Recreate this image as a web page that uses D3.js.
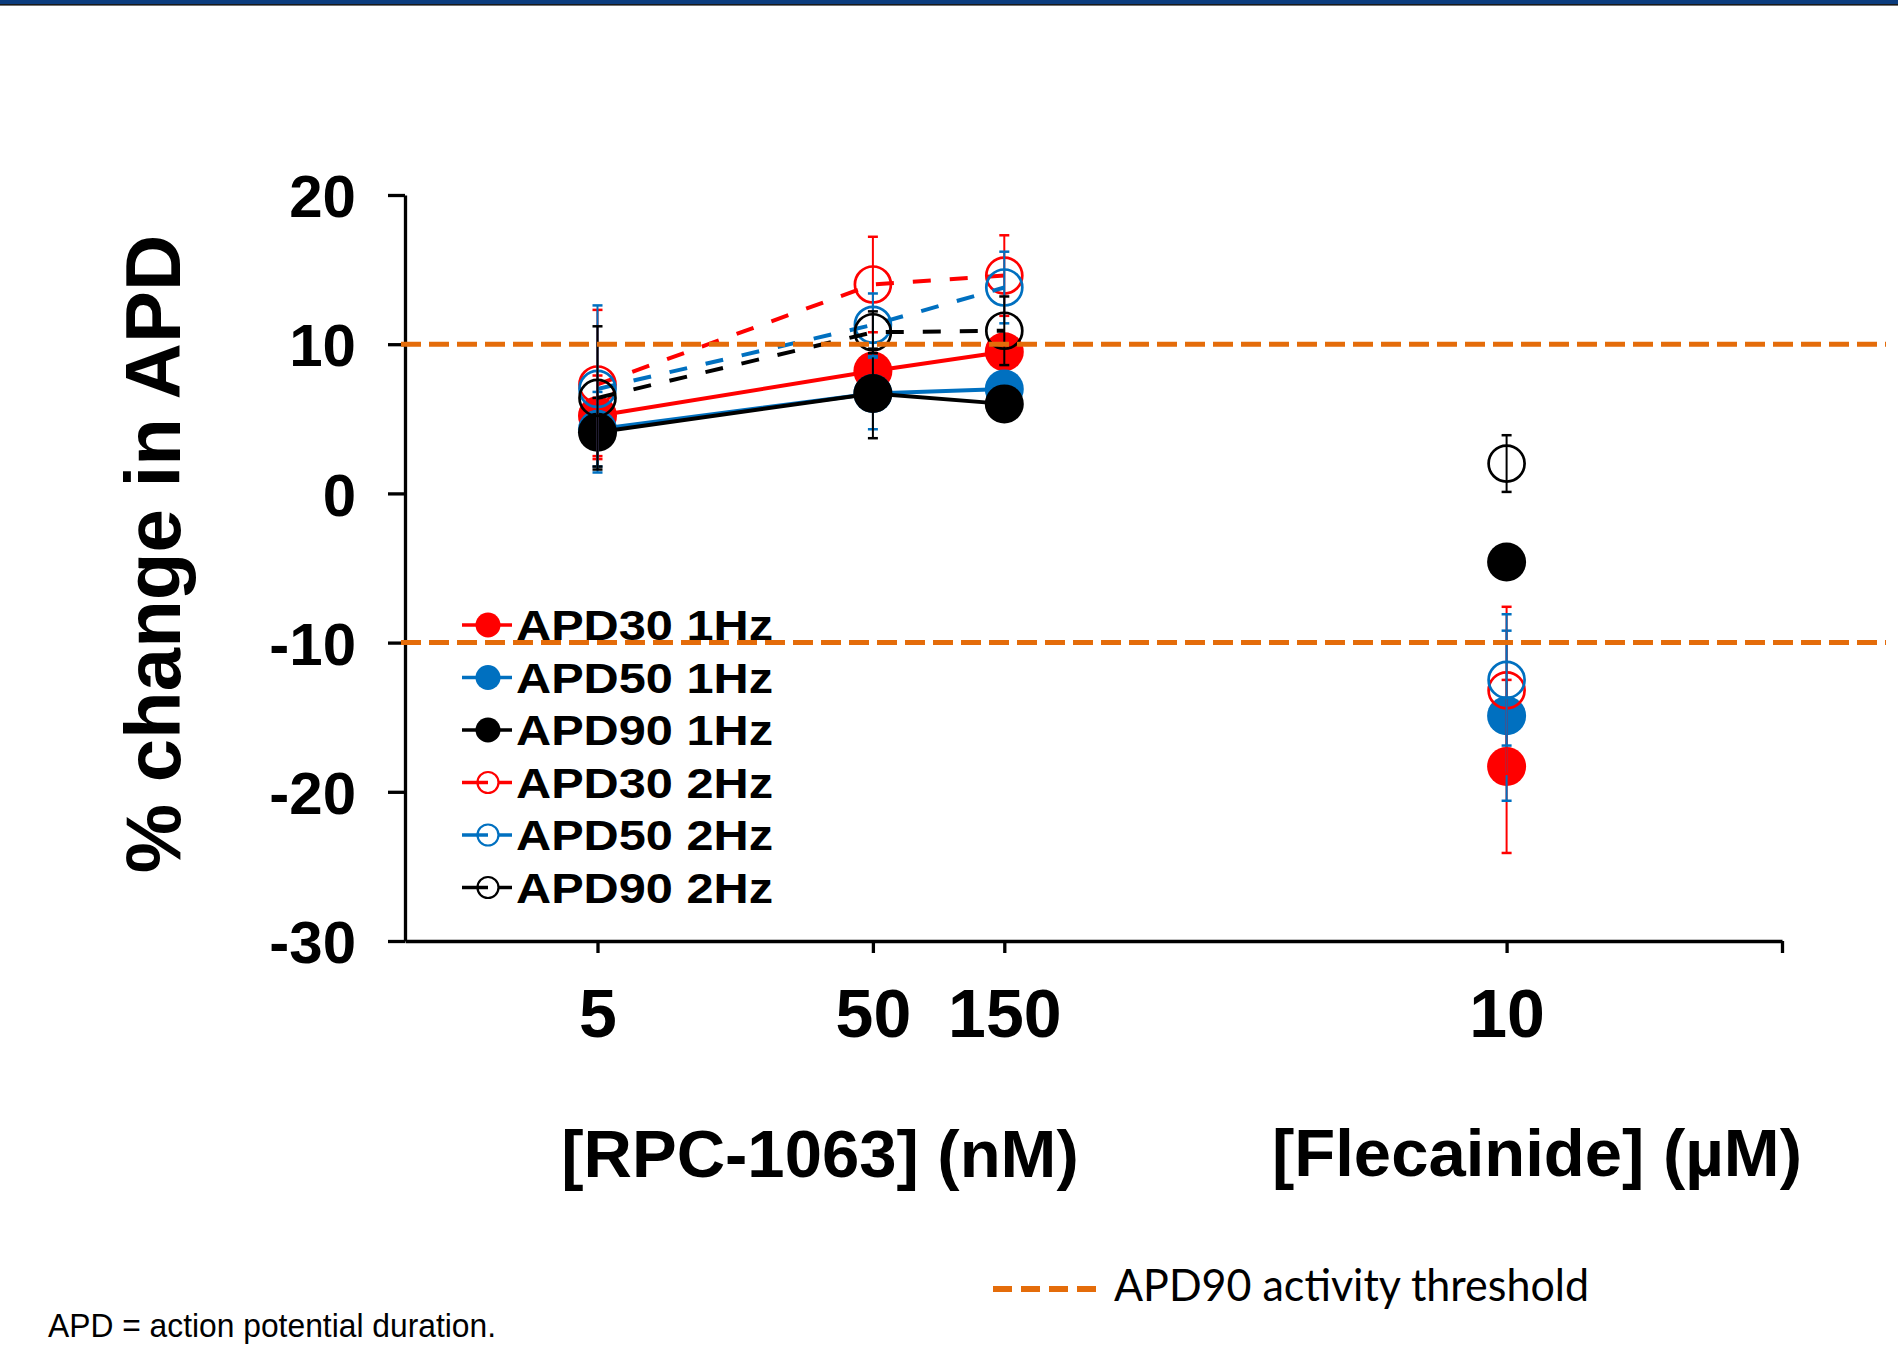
<!DOCTYPE html>
<html><head><meta charset="utf-8">
<script src="https://cdn.jsdelivr.net/npm/d3@7"></script>
<style>body{margin:0;background:#fff;overflow:hidden}</style>
</head><body>
<svg id="c" width="1898" height="1345" xmlns="http://www.w3.org/2000/svg"></svg>
<script>
// ---------------- DATA ----------------
// x positions in nM (log axis): RPC-1063 5, 50, 150 nM; Flecainide 10 µM = 10000 nM
const xConc = [5, 50, 150, 10000];
const xTickValues = [5, 50, 150, 10000, 100000];
const xTickLabels = ["5", "50", "150", "10", ""];
const yTickValues = [-30, -20, -10, 0, 10, 20];
const thresholds = [10, -10];

const seriesNames = ["APD30 1Hz", "APD50 1Hz", "APD90 1Hz", "APD30 2Hz", "APD50 2Hz", "APD90 2Hz"];
const seriesColors = ["#FF0000", "#0070C0", "#000000", "#FF0000", "#0070C0", "#000000"];
const seriesFilled = [true, true, true, false, false, false];

const apd30_1Hz = [5.2, 8.2, 9.5, -18.3];
const apd50_1Hz = [4.3, 6.7, 7.0, -14.9];
const apd90_1Hz = [4.1, 6.7, 6.0, -4.6];
const apd30_2Hz = [7.3, 14.0, 14.6, -13.2];
const apd50_2Hz = [7.0, 11.3, 13.8, -12.5];
const apd90_2Hz = [6.4, 10.8, 10.9, 2.0];

const err30_1Hz = [2.7, 1.0, 1.0, 5.8];
const err50_1Hz = [2.5, 2.4, 1.0, 5.7];
const err90_1Hz = [2.3, 3.0, 1.0, 0.8];
const err30_2Hz = [5.0, 3.2, 2.7, 5.6];
const err50_2Hz = [5.6, 2.1, 2.4, 4.4];
const err90_2Hz = [4.8, 1.4, 2.3, 1.9];

const seriesValues = [apd30_1Hz, apd50_1Hz, apd90_1Hz, apd30_2Hz, apd50_2Hz, apd90_2Hz];
const seriesErrors = [err30_1Hz, err50_1Hz, err90_1Hz, err30_2Hz, err50_2Hz, err90_2Hz];

// ---------------- CHART ----------------
const svg = d3.select("#c");
const FONT = "'Liberation Sans', Arial, Helvetica, sans-serif";
const ORANGE = "#E46C0A";

// top banner
svg.append("rect").attr("x", 0).attr("y", 0).attr("width", 1898).attr("height", 4).attr("fill", "#0B3C7E");
svg.append("rect").attr("x", 0).attr("y", 4).attr("width", 1898).attr("height", 1.6).attr("fill", "#1a1a1a");

const x = d3.scaleLog().domain([1, 100000]).range([405, 1782]);
const y = d3.scaleLinear().domain([-30, 20]).range([941, 195]);

// axes
const yAxis = d3.axisLeft(y).tickValues(yTickValues).tickSize(17).tickSizeOuter(0).tickPadding(32)
  .tickFormat(d => String(d));
const gy = svg.append("g").attr("transform", "translate(405,0)").call(yAxis);
gy.select(".domain").attr("stroke", "#000").attr("stroke-width", 3.3);
gy.selectAll(".tick line").attr("stroke", "#000").attr("stroke-width", 3.3);
gy.selectAll(".tick text").attr("font-family", FONT).attr("font-weight", "bold")
  .attr("font-size", 60).attr("fill", "#000").attr("dy", "0.36em");

const xAxis = d3.axisBottom(x).tickValues(xTickValues).tickSize(12).tickSizeOuter(0).tickPadding(36)
  .tickFormat(d => xTickLabels[xTickValues.indexOf(d)]);
const gx = svg.append("g").attr("transform", "translate(0,941)").call(xAxis);
gx.select(".domain").attr("stroke", "#000").attr("stroke-width", 3.3);
gx.selectAll(".tick line").attr("stroke", "#000").attr("stroke-width", 3.3);
gx.selectAll(".tick text").attr("font-family", FONT).attr("font-weight", "bold")
  .attr("font-size", 68).attr("fill", "#000");

// axis titles
svg.append("text").attr("transform", "translate(180,554) rotate(-90)")
  .attr("text-anchor", "middle").attr("font-family", FONT).attr("font-weight", "bold")
  .attr("font-size", 78).attr("fill", "#000").text("% change in APD");
svg.append("text").attr("x", 820).attr("y", 1177).attr("text-anchor", "middle")
  .attr("font-family", FONT).attr("font-weight", "bold").attr("font-size", 67).attr("fill", "#000")
  .text("[RPC-1063] (nM)");
svg.append("text").attr("x", 1537).attr("y", 1176).attr("text-anchor", "middle")
  .attr("font-family", FONT).attr("font-weight", "bold").attr("font-size", 67).attr("fill", "#000")
  .text("[Flecainide] (µM)");

// series
const plot = svg.append("g");
const line = d3.line().x(d => x(d.c)).y(d => y(d.v));
seriesNames.forEach((name, si) => {
  const col = seriesColors[si];
  const pts = seriesValues[si].map((v, i) => ({c: xConc[i], v, e: seriesErrors[si][i]}));
  const g = plot.append("g");
  g.append("path").datum(pts.slice(0, 3)).attr("d", line).attr("fill", "none")
    .attr("stroke", col).attr("stroke-width", 4)
    .attr("stroke-dasharray", seriesFilled[si] ? null : "18,19");
  // error bars
  const eb = g.selectAll(".eb").data(pts).enter().append("g");
  eb.append("line").attr("x1", d => x(d.c)).attr("x2", d => x(d.c))
    .attr("y1", d => y(d.v + d.e)).attr("y2", d => y(d.v - d.e))
    .attr("stroke", col).attr("stroke-width", 2);
  [1, -1].forEach(s => {
    eb.append("line").attr("x1", d => x(d.c) - 5).attr("x2", d => x(d.c) + 5)
      .attr("y1", d => y(d.v + s * d.e)).attr("y2", d => y(d.v + s * d.e))
      .attr("stroke", col).attr("stroke-width", 2.5);
  });
  // markers
  g.selectAll(".m").data(pts).enter().append("circle")
    .attr("cx", d => x(d.c)).attr("cy", d => y(d.v))
    .attr("r", seriesFilled[si] ? 19.5 : 18)
    .attr("fill", seriesFilled[si] ? col : "none")
    .attr("stroke", col).attr("stroke-width", seriesFilled[si] ? 0 : 2.7);
});

// legend
const leg = svg.append("g");
seriesNames.forEach((name, i) => {
  const by = 640 + i * 52.5;
  const cy = by - 15;
  const col = seriesColors[i];
  if (seriesFilled[i]) {
    leg.append("line").attr("x1", 462).attr("x2", 512).attr("y1", cy).attr("y2", cy)
      .attr("stroke", col).attr("stroke-width", 3.5);
    leg.append("circle").attr("cx", 488).attr("cy", cy).attr("r", 12.5).attr("fill", col);
  } else {
    leg.append("line").attr("x1", 462).attr("x2", 488).attr("y1", cy).attr("y2", cy)
      .attr("stroke", col).attr("stroke-width", 3.5);
    leg.append("line").attr("x1", 499).attr("x2", 512).attr("y1", cy).attr("y2", cy)
      .attr("stroke", col).attr("stroke-width", 3.5);
    leg.append("circle").attr("cx", 488).attr("cy", cy).attr("r", 10.5).attr("fill", "none")
      .attr("stroke", col).attr("stroke-width", 2.2);
  }
  leg.append("text").attr("x", 516).attr("y", by).attr("font-family", FONT).attr("font-weight", "bold")
    .attr("font-size", 42).attr("fill", "#000").attr("textLength", 257).attr("lengthAdjust", "spacingAndGlyphs")
    .text(name);
});

// threshold lines (drawn on top)
svg.selectAll(".thr").data(thresholds).enter().append("line")
  .attr("x1", 401).attr("x2", 1886).attr("y1", d => y(d)).attr("y2", d => y(d))
  .attr("stroke", ORANGE).attr("stroke-width", 5).attr("stroke-dasharray", "20,8");

// bottom legend for threshold
svg.append("line").attr("x1", 993).attr("x2", 1096).attr("y1", 1289).attr("y2", 1289)
  .attr("stroke", ORANGE).attr("stroke-width", 6).attr("stroke-dasharray", "19,9");
svg.append("text").attr("x", 1114).attr("y", 1301).attr("font-family", "Lato, 'Noto Sans', sans-serif")
  .attr("font-size", 44).attr("fill", "#000").attr("textLength", 475).attr("lengthAdjust", "spacingAndGlyphs")
  .text("APD90 activity threshold");

svg.append("text").attr("x", 48).attr("y", 1337).attr("font-family", FONT)
  .attr("font-size", 34).attr("fill", "#000").attr("textLength", 448).attr("lengthAdjust", "spacingAndGlyphs")
  .text("APD = action potential duration.");
</script>
</body></html>
